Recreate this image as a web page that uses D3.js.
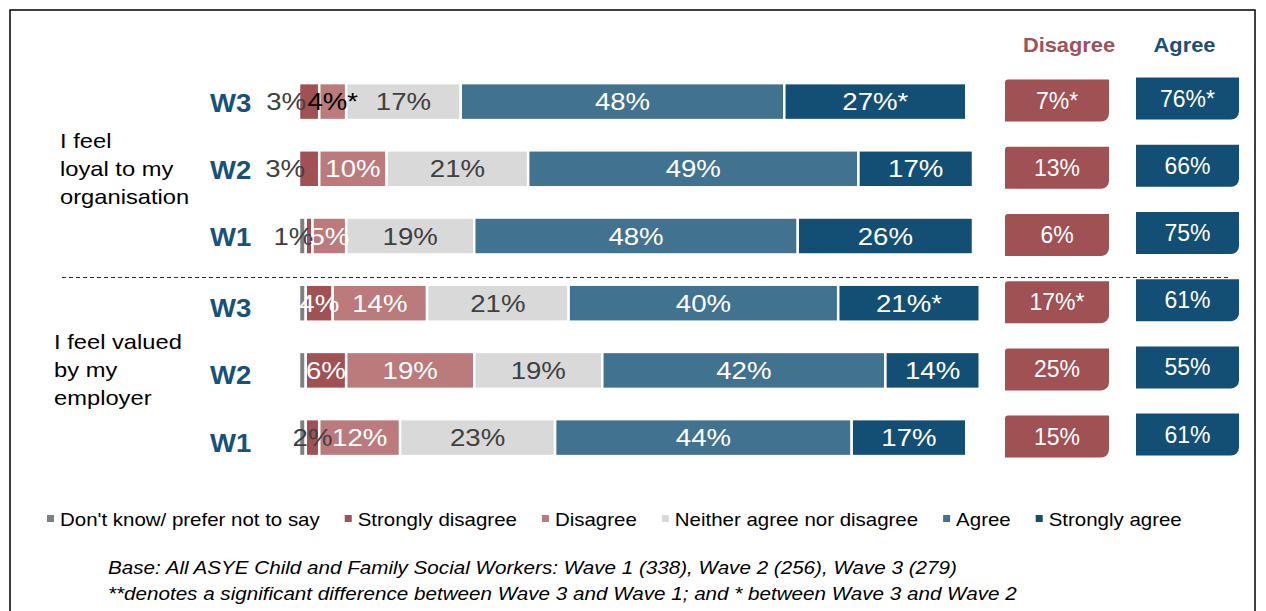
<!DOCTYPE html>
<html><head><meta charset="utf-8">
<script src="https://cdn.jsdelivr.net/npm/d3@7"></script>
<style>body{margin:0;background:#fff;} svg{display:block;font-family:"Liberation Sans",Arial,sans-serif;}</style>
</head><body><svg id="chart" width="1266" height="611"></svg>
<script>
// ---------- DATA ----------
const statements = [["I feel", "loyal to my", "organisation"], ["I feel valued", "by my", "employer"]];
const waves = ["W3", "W2", "W1", "W3", "W2", "W1"];
const seriesNames = ["Don't know/ prefer not to say", "Strongly disagree", "Disagree",
  "Neither agree nor disagree", "Agree", "Strongly agree"];
const dontKnow         = [0, 0, 1, 1, 1, 1];
const stronglyDisagree = [3, 3, 1, 4, 6, 2];
const disagree         = [4, 10, 5, 14, 19, 12];
const neither          = [17, 21, 19, 21, 19, 23];
const agree            = [48, 49, 48, 40, 42, 44];
const stronglyAgree    = [27, 17, 26, 21, 14, 17];
const dontKnowLabels         = ["", "", "1%", "", "", ""];
const stronglyDisagreeLabels = ["3%", "3%", "", "4%", "6%", "2%"];
const disagreeLabels         = ["4%*", "10%", "5%", "14%", "19%", "12%"];
const neitherLabels          = ["17%", "21%", "19%", "21%", "19%", "23%"];
const agreeLabels            = ["48%", "49%", "48%", "40%", "42%", "44%"];
const stronglyAgreeLabels    = ["27%*", "17%", "26%", "21%*", "14%", "17%"];
const netDisagreeLabels = ["7%*", "13%", "6%", "17%*", "25%", "15%"];
const netAgreeLabels    = ["76%*", "66%", "75%", "61%", "55%", "61%"];
const netHeaders = ["Disagree", "Agree"];
const footnotes = [
  "Base: All ASYE Child and Family Social Workers: Wave 1 (338), Wave 2 (256), Wave 3 (279)",
  "**denotes a significant difference between Wave 3 and Wave 1; and * between Wave 3 and Wave 2"
];

// ---------- STYLE ----------
const colors = ["#7f7f7f", "#a05154", "#bb7a7c", "#d9d9d9", "#41728f", "#134f74"];
const boxDisColor = "#a05154", boxAgrColor = "#134f74";
const navy = "#185179";
const seriesValues = [dontKnow, stronglyDisagree, disagree, neither, agree, stronglyAgree];
const seriesLabels = [dontKnowLabels, stronglyDisagreeLabels, disagreeLabels, neitherLabels, agreeLabels, stronglyAgreeLabels];
const labelFill = ["#404040", "#ffffff", "#ffffff", "#404040", "#ffffff", "#ffffff"];
// layout tweaks for a few small-segment labels (row-series)
const labelTweak = {
  "0-1": {dx: -23, fill: "#404040"},
  "0-2": {dx: 0, fill: "#000000"},
  "1-1": {dx: -24, fill: "#404040"},
  "2-0": {dx: -9, fill: "#404040"},
  "5-1": {dx: 0, fill: "#404040"}
};

const svg = d3.select("#chart");

function txt(g, x, y, s, o) {
  o = o || {};
  const sx = o.sx || 1;
  return g.append("text")
    .attr("transform", `translate(${x},${y}) scale(${sx},1)`)
    .attr("text-anchor", o.anchor || "start")
    .attr("font-size", o.size || 20)
    .attr("font-weight", o.weight || "normal")
    .attr("font-style", o.style || "normal")
    .attr("fill", o.fill || "#000")
    .text(s);
}

// border
svg.append("path").attr("d", "M10,640 V10 H1255 V640")
  .attr("fill", "none").attr("stroke", "#000").attr("stroke-width", 1.5);

const rowIdx = d3.range(waves.length);
const y = d3.scaleBand().domain(rowIdx).range([68, 471.2]).paddingInner(0.45).paddingOuter(0.225);
const x = d3.scaleLinear().domain([0, 100]).range([299, 973]);

// stacked data
const keys = d3.range(seriesNames.length);
const table = rowIdx.map(i => { const o = {row: i}; keys.forEach(k => o[k] = seriesValues[k][i]); return o; });
const stacked = d3.stack().keys(keys)(table);

const gBars = svg.append("g");
stacked.forEach((layer, k) => {
  gBars.selectAll(null).data(layer).join("rect")
    .attr("x", d => x(d[0]))
    .attr("y", d => y(d.data.row))
    .attr("width", d => Math.max(0, x(d[1]) - x(d[0])))
    .attr("height", y.bandwidth())
    .attr("fill", colors[k])
    .attr("stroke", "#fff").attr("stroke-width", d => (d[1] - d[0]) > 0 ? 2.5 : 0);
});
// bar labels
const gLab = svg.append("g");
stacked.forEach((layer, k) => {
  layer.forEach(d => {
    const i = d.data.row;
    const s = seriesLabels[k][i];
    if (!s) return;
    const tw = labelTweak[i + "-" + k] || {};
    const cx = (x(d[0]) + x(d[1])) / 2 + (tw.dx || 0);
    const cy = y(i) + y.bandwidth() / 2 + 8.5;
    txt(gLab, cx, cy, s, {anchor: "middle", size: 23, sx: 1.2, fill: tw.fill || labelFill[k]});
  });
});

// wave labels
const gW = svg.append("g");
rowIdx.forEach(i => {
  const off = i < 3 ? 10 : 14;
  txt(gW, 210, y(i) + y.bandwidth() / 2 + off, waves[i], {size: 25, weight: "bold", sx: 1.1, fill: navy});
});

// statement labels
const groupX = [60, 54];
statements.forEach((lines, gi) => {
  const mid = (y(gi * 3) + y(gi * 3 + 2) + y.bandwidth()) / 2;
  lines.forEach((ln, li) => {
    txt(svg, groupX[gi], mid + 7 + (li - 1) * 28, ln, {size: 21, sx: 1.13, fill: "#000"});
  });
});

// separator
svg.append("line").attr("x1", 62).attr("x2", 1230).attr("y1", 277.5).attr("y2", 277.5)
  .attr("stroke", "#1b3550").attr("stroke-width", 1).attr("stroke-dasharray", "4,3");

// net boxes
function boxPath(bx, by, w, h, rtl, rbr) {
  return `M${bx + rtl},${by} H${bx + w} V${by + h - rbr} A${rbr},${rbr} 0 0 1 ${bx + w - rbr},${by + h} H${bx} V${by + rtl} A${rtl},${rtl} 0 0 1 ${bx + rtl},${by} Z`;
}
const boxCols = [{x: 1005, w: 104, fill: boxDisColor, labels: netDisagreeLabels, dy: -1, rtl: 3, hdrFill: "#a0525a"},
                 {x: 1136, w: 103, fill: boxAgrColor, labels: netAgreeLabels, dy: -3, rtl: 0, hdrFill: "#1b4f76"}];
boxCols.forEach((c, ci) => {
  txt(svg, c.x + c.w / 2 + (ci === 0 ? 12 : -3), 52, netHeaders[ci], {anchor: "middle", size: 21, weight: "bold", sx: 1.04, fill: c.hdrFill});
  rowIdx.forEach(i => {
    const cy = y(i) + y.bandwidth() / 2 + c.dy;
    svg.append("path").attr("d", boxPath(c.x, cy - 21, c.w, 42, c.rtl, 8)).attr("fill", c.fill);
    txt(svg, c.x + c.w / 2, cy + 8, c.labels[i], {anchor: "middle", size: 23, fill: "#fff"});
  });
});

// legend
const gLeg = svg.append("g");
let lx = 47;
seriesNames.forEach((n, k) => {
  gLeg.append("rect").attr("x", lx).attr("y", 515).attr("width", 7).attr("height", 7).attr("fill", colors[k]);
  const t = txt(gLeg, lx + 13, 526, n, {size: 18.6, sx: 1.1, fill: "#000"});
  const w = t.node().getComputedTextLength() * 1.1;
  lx += 13 + w + 25;
});

// footnotes
footnotes.forEach((f, i) => {
  txt(svg, 108, 574 + i * 26, f, {size: 18.6, style: "italic", sx: 1.11, fill: "#000"});
});
</script></body></html>
